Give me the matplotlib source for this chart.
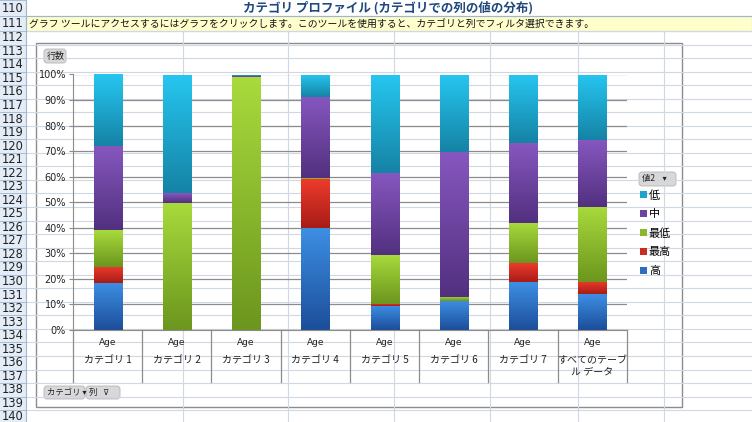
import matplotlib
matplotlib.use("Agg")
import matplotlib.pyplot as plt
import numpy as np
from matplotlib.patches import Rectangle, FancyBboxPatch
from matplotlib.colors import to_rgb

plt.rcParams['font.family'] = ['Noto Sans CJK JP', 'DejaVu Sans']

# data (percent of rows, stacked bottom -> top)
categories = ['カテゴリ 1', 'カテゴリ 2', 'カテゴリ 3', 'カテゴリ 4',
              'カテゴリ 5', 'カテゴリ 6', 'カテゴリ 7', 'すべてのテーブ\nル データ']
column_label = 'Age'
series_names = ['高', '最高', '最低', '中', '低']
high = [18.5, 0, 0, 40.0, 9.4, 11.4, 18.7, 14.0]
highest = [6.3, 0, 0, 19.0, 0.8, 0, 7.4, 4.7]
lowest = [14.2, 49.8, 99.0, 0.3, 19.2, 1.6, 15.9, 29.6]
mid = [33.0, 3.7, 0.3, 32.0, 32.0, 56.7, 31.1, 26.1]
low = [28.0, 46.5, 0.7, 8.7, 38.6, 30.3, 26.9, 25.6]
yticks = list(range(0, 101, 10))

series = [high, highest, lowest, mid, low]
# (top, bottom) gradient colours per series
grads = [('#3D8FE4', '#1C4E9A'), ('#EC3B2C', '#A81C16'), ('#A8DA3C', '#6C961E'),
         ('#8657BF', '#52307F'), ('#26C6F0', '#1583A5')]

W, H = 752, 422
fig = plt.figure(figsize=(W / 100, H / 100), dpi=100)

# ---- spreadsheet background ----
bg = fig.add_axes([0, 0, 1, 1])
bg.set_xlim(0, W)
bg.set_ylim(H, 0)
bg.axis('off')
grid_c = '#D0D7E5'
row_top = 31
row_h = 13.54
bounds = [16] + [row_top + row_h * k for k in range(31)]
for y in bounds[1:]:
    bg.plot([26, W], [y, y], color=grid_c, lw=0.8)
for x in [183, 288, 394, 490, 578, 664]:
    bg.plot([x, x], [row_top, H], color=grid_c, lw=0.8)
# row header
bg.add_patch(Rectangle((0, 0), 26, H, fc='#E4ECF7', ec='none'))
bg.plot([26, 26], [0, H], color='#9EB6CE', lw=0.8)
for y in [0] + bounds:
    bg.plot([0, 26], [y, y], color='#9EB6CE', lw=0.6)
rows = list(range(110, 141))
centers = [8, 23.5] + [row_top + row_h * (k + 0.5) for k in range(29)]
for r, c in zip(rows, centers):
    bg.text(13, c, str(r), ha='center', va='center', fontsize=8.3, color='#222222',
            family=['DejaVu Sans'])
# title row and hint row
bg.plot([26, W], [16, 16], color='#9EB6CE', lw=0.8)
bg.text(388, 8, 'カテゴリ プロファイル (カテゴリでの列の値の分布)', ha='center', va='center',
        fontsize=9, fontweight='bold', color='#1F497D')
bg.add_patch(Rectangle((26, 16), W - 26, 15, fc='#FFFFCC', ec='#8EA9C8', lw=0.8))
bg.text(29, 23.5, 'グラフ ツールにアクセスするにはグラフをクリックします。このツールを使用すると、カテゴリと列でフィルタ選択できます。',
        ha='left', va='center', fontsize=7.1, color='#111111')

# chart area
bg.add_patch(Rectangle((36, 43), 646, 364, fc='white', ec='#8C8C8C', lw=1))


def button(x, y, w, h, label, size=6):
    bg.add_patch(FancyBboxPatch((x, y), w, h, boxstyle='round,pad=0,rounding_size=3',
                                fc='#D8D8D8', ec='#B5B5B5', lw=0.6))
    bg.text(x + 3, y + h / 2, label, ha='left', va='center', fontsize=size, color='#222222')


button(44, 49, 22, 14, '行数', 6.5)
button(44, 386, 41, 13, 'カテゴリ ▾')
button(86, 386, 34, 13, '列   ⊽')
button(639, 172, 37, 14, '値2    ▾')

# ---- chart ----
ax = fig.add_axes([73 / W, (H - 330) / H, 554 / W, 255.5 / H])
ax.patch.set_alpha(0)
x = np.arange(len(categories))
width = 0.405
bottom = np.zeros(len(categories))
handles = []
for vals, name, (ctop, cbot) in zip(series, series_names, grads):
    vals = np.array(vals, dtype=float)
    mcol = tuple((np.array(to_rgb(ctop)) + np.array(to_rgb(cbot))) / 2)
    bars = ax.bar(x, vals, width, bottom=bottom, color=mcol, edgecolor='none', label=name,
                  zorder=2)
    handles.append(bars)
    cmap = matplotlib.colors.LinearSegmentedColormap.from_list(name, [cbot, ctop])
    for b in bars:
        if b.get_height() <= 0:
            continue
        x0, y0 = b.get_x(), b.get_y()
        grad = np.linspace(1, 0, 64).reshape(-1, 1)
        im = ax.imshow(grad, cmap=cmap, extent=[x0, x0 + b.get_width(), y0, y0 + b.get_height()],
                       aspect='auto', zorder=2.5, interpolation='bilinear', vmin=0, vmax=1)
        im.set_clip_path(b)
    bottom += vals

ax.set_xlim(-0.5, len(categories) - 0.5)
ax.set_ylim(0, 100)
ax.set_yticks(yticks)
ax.set_yticklabels([f'{v}%' for v in yticks], fontsize=7, color='#222222', family=['DejaVu Sans'])
ax.set_xticks([])
ax.tick_params(axis='y', length=3, color='#8C8C8C', pad=2)
ax.yaxis.grid(True, color='#8C8C8C', lw=0.9)
ax.set_axisbelow(True)
for s in ['top', 'right']:
    ax.spines[s].set_visible(False)
for s in ['left', 'bottom']:
    ax.spines[s].set_color('#8C8C8C')

# category axis with separators
sep_depth = -52 / 255.5 * 100
for i in range(len(categories) + 1):
    ax.plot([i - 0.5, i - 0.5], [0, sep_depth], color='#8C8C8C', lw=0.9, clip_on=False)
for i, cat in enumerate(categories):
    ax.text(i, -3.3, column_label, ha='center', va='top', fontsize=6.5, color='#222222',
            family=['DejaVu Sans'])
    ax.text(i, -9.8, cat, ha='center', va='top', fontsize=7.2, color='#222222',
            linespacing=1.15)

ax.legend(handles[::-1], series_names[::-1], loc='upper left',
          bbox_to_anchor=(640 / W, 1 - 190 / H), bbox_transform=fig.transFigure,
          frameon=False, fontsize=8, handlelength=0.6, handleheight=0.6,
          handletextpad=0.2, labelspacing=0.78, borderpad=0, borderaxespad=0)

fig.savefig('out.png', dpi=100)
